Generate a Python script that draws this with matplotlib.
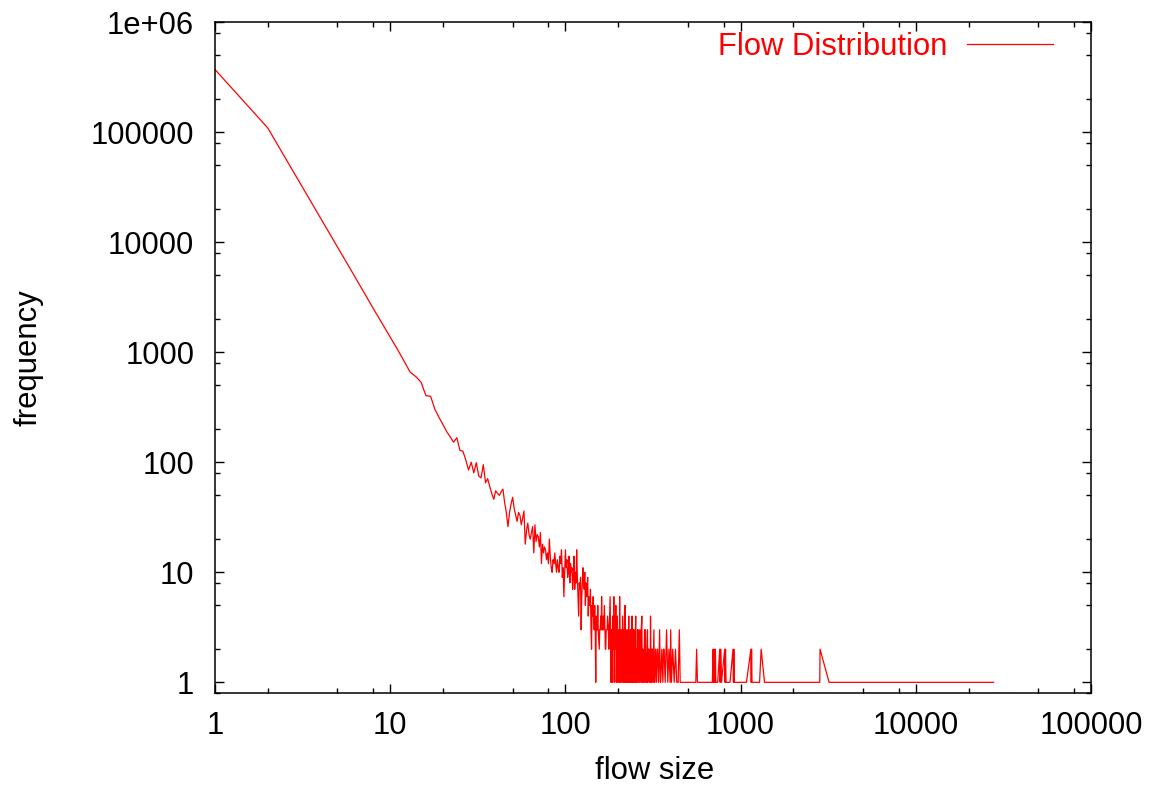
import matplotlib
matplotlib.use("Agg")
import matplotlib.pyplot as plt
import pandas as pd
from matplotlib.ticker import FixedLocator, FixedFormatter, NullFormatter

# ---- data (flow size -> frequency) ----
head_size = list(range(1, 51))
head_freq = [370000, 109000, 36200, 16500, 9000, 5500, 3600, 2500, 1820, 1370,
             1060, 830, 658, 600, 534, 402, 398, 302, 255, 220,
             190, 170, 152, 167, 128, 126, 105, 85, 100, 80,
             99, 75, 72, 95, 65, 71, 60, 52, 46, 55,
             52, 50, 54, 57, 43, 35, 26, 35, 42, 48]

mid_size = list(range(51, 141))
mid_freq = [38, 33, 29, 35, 33, 27, 31, 36, 18, 24,
            28, 22, 20, 23, 26, 15, 27, 19, 22, 21,
            17, 23, 12, 18, 15, 17, 16, 13, 15, 12,
            20, 14, 11, 10, 13, 12, 15, 12, 10, 13,
            11, 10, 14, 12, 16, 9, 11, 6, 10, 16,
            11, 13, 9, 10, 14, 8, 12, 10, 11, 7,
            9, 14, 7, 10, 8, 16, 9, 6, 4, 8,
            7, 9, 3, 6, 8, 11, 9, 7, 10, 5,
            8, 6, 7, 9, 4, 6, 5, 5, 7, 3]

tail_size = [141, 142, 143, 144, 145, 146, 147, 148, 149, 150, 151, 152, 153, 154,
             156, 157, 158, 159, 160, 161, 162, 163, 164, 165, 167, 168, 169, 170,
             171, 173, 174, 176, 177, 178, 180, 182, 183, 184, 185, 186, 187, 189,
             190, 191, 193, 194, 195, 196, 198, 199, 200, 202, 203, 204, 205, 207,
             208, 209, 211, 212, 214, 215, 216, 218, 219, 220, 222, 224, 225, 227,
             228, 230, 232, 233, 235, 236, 238, 240, 241, 243, 245, 246, 248, 250,
             252, 254, 256, 258, 259, 262, 264, 266, 268, 270, 273, 275, 277, 280,
             283, 285, 288, 290, 294, 296, 300, 303, 306, 309, 312, 316, 320, 324,
             327, 331, 336, 340, 345, 350, 355, 360, 366, 371, 378, 384, 390, 396,
             399, 403, 410, 418, 425, 432, 440, 447, 452, 470, 490, 510, 540, 555,
             561, 567, 600, 640, 690, 697, 700, 707, 712, 718, 722, 740, 760, 764,
             772, 778, 811, 815, 820, 826, 870, 905, 910, 915, 921, 1000, 1080, 1145,
             1150, 1155, 1162, 1283, 1310, 1370, 1500, 1800, 2100, 2500, 2830, 2840,
             3200, 3800, 4600, 5800, 7300, 9600, 13000, 19500, 27800]
tail_freq = [2, 5, 4, 6, 4, 3, 5, 3, 1, 4, 3, 3, 5, 3,
             2, 3, 3, 4, 3, 6, 3, 3, 4, 3, 5, 3, 2, 2,
             3, 3, 4, 3, 2, 3, 6, 1, 2, 3, 1, 4, 2, 6,
             1, 3, 2, 5, 1, 2, 4, 1, 3, 2, 1, 6, 2, 1,
             3, 2, 1, 4, 2, 1, 3, 2, 5, 1, 2, 1, 3, 2,
             1, 4, 1, 2, 3, 1, 2, 4, 1, 2, 1, 3, 2, 1,
             4, 1, 2, 3, 1, 2, 1, 3, 2, 1, 4, 1, 2, 1,
             3, 1, 2, 1, 3, 1, 2, 1, 4, 1, 2, 1, 3, 1,
             2, 1, 2, 1, 3, 1, 2, 1, 2, 1, 3, 1, 2, 1,
             3, 1, 2, 1, 2, 1, 1, 3, 1, 1, 1, 1, 1, 1,
             2, 1, 1, 1, 1, 2, 1, 2, 1, 2, 1, 1, 2, 1,
             2, 1, 2, 1, 2, 1, 1, 2, 1, 2, 1, 1, 1, 2,
             1, 2, 1, 1, 2, 1, 1, 1, 1, 1, 1, 2,
             1, 1, 1, 1, 1, 1, 1, 1, 1]

# extra sizes in the dense 180-370 band
extra_size = [181, 188, 192, 197, 201, 206, 210, 213, 217, 221, 223, 226, 229, 231,
              234, 237, 239, 242, 244, 247, 249, 251, 253, 255, 257, 260, 263, 265,
              267, 271, 274, 278, 282, 286, 292, 298, 305, 314, 322, 334, 348, 363]
extra_freq = [3, 2, 4, 3, 2, 3, 2, 3, 1, 3, 2, 1, 3, 2,
              1, 3, 1, 2, 3, 1, 2, 3, 1, 2, 1, 3, 2, 1,
              2, 3, 2, 1, 2, 3, 1, 2, 1, 2, 1, 2, 1, 2]

x_ticks = [1, 10, 100, 1000, 10000, 100000]
x_tick_labels = ["1", "10", "100", "1000", "10000", "100000"]
y_ticks = [1, 10, 100, 1000, 10000, 100000, 1000000]
y_tick_labels = ["1", "10", "100", "1000", "10000", "100000", "1e+06"]

df = pd.DataFrame({
    "size": head_size + mid_size + tail_size + extra_size,
    "freq": head_freq + mid_freq + tail_freq + extra_freq,
}).sort_values("size")

plt.rcParams['font.family'] = ['Liberation Sans', 'DejaVu Sans']
FS = 22.3

fig = plt.figure(figsize=(11.55, 7.89), dpi=100)
ax = fig.add_axes([215 / 1155, 1 - 693 / 789, (1091 - 215) / 1155, (693 - 22) / 789])

line, = ax.plot(df["size"], df["freq"], color='#ff0000', linewidth=0.9)
ax.set_xscale('log')
ax.set_yscale('log')
ax.set_xlim(1, 100000)
ax.set_ylim(0.8, 1000000)

# gnuplot-like minor ticks at 2, 5, 8 of each decade
minor_x = [m * 10 ** d for d in range(0, 5) for m in (2, 5, 8)]
minor_y = [0.8] + [m * 10 ** d for d in range(0, 6) for m in (2, 5, 8)]
ax.xaxis.set_major_locator(FixedLocator(x_ticks))
ax.xaxis.set_major_formatter(FixedFormatter(x_tick_labels))
ax.xaxis.set_minor_locator(FixedLocator(minor_x))
ax.xaxis.set_minor_formatter(NullFormatter())
ax.yaxis.set_major_locator(FixedLocator(y_ticks))
ax.yaxis.set_major_formatter(FixedFormatter(y_tick_labels))
ax.yaxis.set_minor_locator(FixedLocator(minor_y))
ax.yaxis.set_minor_formatter(NullFormatter())

ax.tick_params(which='both', direction='in', top=True, right=True, width=1.0, colors='black')
ax.tick_params(which='major', length=6.5, labelsize=FS)
ax.tick_params(which='minor', length=3.5)
ax.tick_params(axis='y', which='major', pad=15)
ax.tick_params(axis='x', which='major', pad=13)
for sp in ax.spines.values():
    sp.set_linewidth(1.1)

fig.text(28 / 1155, 1 - 358 / 789, "frequency", rotation=90, ha='center', va='center', fontsize=FS)
fig.text(655 / 1155, 1 - 771 / 789, "flow size", ha='center', va='center', fontsize=FS)

ax.legend([line], ["Flow Distribution"], loc='center right', markerfirst=False,
          bbox_to_anchor=(1053 / 1155, 1 - 47 / 789), bbox_transform=fig.transFigure,
          frameon=False, fontsize=FS, labelcolor='#ff0000', borderpad=0, borderaxespad=0,
          handlelength=2.78, handletextpad=0.62)

fig.savefig("out.png", dpi=100)
